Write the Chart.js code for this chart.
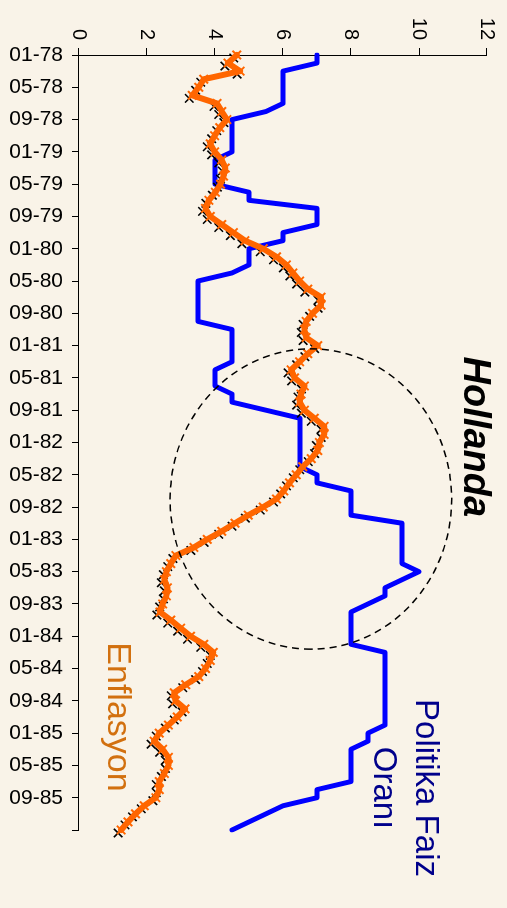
<!DOCTYPE html>
<html><head><meta charset="utf-8">
<script src="https://cdn.jsdelivr.net/npm/chart.js@4"></script>
<style>
html,body{margin:0;padding:0;background:#f9f3e8;width:507px;height:908px;overflow:hidden}
#wrap{position:absolute;left:0;top:0;width:908px;height:507px;transform-origin:0 0;transform:translate(507px,0) rotate(90deg);}
</style></head><body>
<div id="wrap"><canvas id="c" width="908" height="507"></canvas></div>
<script>
const categories = [
 '01-78','02-78','03-78','04-78','05-78','06-78','07-78','08-78','09-78','10-78','11-78','12-78',
 '01-79','02-79','03-79','04-79','05-79','06-79','07-79','08-79','09-79','10-79','11-79','12-79',
 '01-80','02-80','03-80','04-80','05-80','06-80','07-80','08-80','09-80','10-80','11-80','12-80',
 '01-81','02-81','03-81','04-81','05-81','06-81','07-81','08-81','09-81','10-81','11-81','12-81',
 '01-82','02-82','03-82','04-82','05-82','06-82','07-82','08-82','09-82','10-82','11-82','12-82',
 '01-83','02-83','03-83','04-83','05-83','06-83','07-83','08-83','09-83','10-83','11-83','12-83',
 '01-84','02-84','03-84','04-84','05-84','06-84','07-84','08-84','09-84','10-84','11-84','12-84',
 '01-85','02-85','03-85','04-85','05-85','06-85','07-85','08-85','09-85','10-85','11-85','12-85',
 '01-86'
];
const tickLabels = ['01-78','05-78','09-78','01-79','05-79','09-79','01-80','05-80','09-80',
 '01-81','05-81','09-81','01-82','05-82','09-82','01-83','05-83','09-83','01-84','05-84','09-84',
 '01-85','05-85','09-85'];
const tickMarks = tickLabels.concat(['01-86']);
const valueTicks = [0,2,4,6,8,10,12];

const inflation = [
 4.64,4.38,4.74,3.67,3.52,3.33,4.06,4.20,4.35,4.14,3.99,3.86,
 3.99,4.20,4.30,4.25,4.16,4.01,3.82,3.72,3.86,4.20,4.54,4.88,
 5.42,5.81,6.10,6.29,6.49,6.73,7.12,7.12,6.87,6.68,6.63,6.68,
 7.02,6.73,6.49,6.24,6.34,6.63,6.53,6.49,6.63,6.92,7.21,7.21,
 7.07,7.02,6.83,6.58,6.39,6.19,6.02,5.81,5.42,4.98,4.59,4.20,
 3.77,3.38,2.85,2.70,2.57,2.51,2.60,2.57,2.46,2.38,2.70,2.99,
 3.28,3.67,3.95,3.86,3.72,3.52,3.14,2.80,2.84,3.12,2.89,2.63,
 2.36,2.21,2.46,2.63,2.63,2.51,2.36,2.36,2.26,1.92,1.66,1.44,
 1.24
];
const policyRate = [
 7.0,7.0,6.0,6.0,6.0,6.0,6.0,5.5,4.5,4.5,4.5,4.5,
 4.5,4.0,4.0,4.0,4.0,5.0,5.0,7.0,7.0,7.0,6.0,6.0,
 5.0,5.0,5.0,4.5,3.5,3.5,3.5,3.5,3.5,3.5,4.5,4.5,
 4.5,4.5,4.5,4.0,4.0,4.0,4.5,4.5,5.5,6.5,6.5,6.5,
 6.5,6.5,6.5,6.5,7.0,7.0,8.0,8.0,8.0,8.0,9.5,9.5,
 9.5,9.5,9.5,9.5,10.0,9.5,9.0,9.0,8.5,8.0,8.0,8.0,
 8.0,8.0,9.0,9.0,9.0,9.0,9.0,9.0,9.0,9.0,9.0,9.0,
 8.5,8.5,8.0,8.0,8.0,8.0,8.0,7.0,7.0,6.0,5.5,5.0,
 4.5
];

const FONT = '"Liberation Sans", Arial, Helvetica, sans-serif';
const BG = '#f9f3e8';

const annotations = {
  ellipse: {cx: 55.0, cy: 6.82, rxMonths: 18.6, ryValue: 4.14},
  texts: [
    {text: 'Hollanda', x: 47.3, y: 11.62, font: 'italic bold 38px ' + FONT, color: '#000000'},
    {text: 'Enflasyon', x: 82.0, y: 1.14, font: '34px ' + FONT, color: '#d2700f'},
    {text: 'Politika Faiz', x: 90.8, y: 10.17, font: '33px ' + FONT, color: '#00008b'},
    {text: 'Oranı', x: 90.8, y: 8.94, font: '33px ' + FONT, color: '#00008b'}
  ]
};

const decor = {
  id: 'decor',
  beforeDraw(chart) {
    const c = chart.ctx;
    c.save(); c.fillStyle = BG; c.fillRect(0, 0, chart.width, chart.height); c.restore();
  },
  beforeDatasetDraw(chart, args) {
    if (chart.data.datasets[args.index].shadow) { chart.ctx.save(); chart.ctx.translate(3, 3); }
  },
  afterDatasetDraw(chart, args) {
    if (chart.data.datasets[args.index].shadow) { chart.ctx.restore(); }
  },
  afterDatasetsDraw(chart) {
    const c = chart.ctx, xs = chart.scales.x, ys = chart.scales.y, e = annotations.ellipse;
    const cx = xs.getPixelForValue(e.cx), cy = ys.getPixelForValue(e.cy);
    const rx = Math.abs(xs.getPixelForValue(e.cx + e.rxMonths) - cx);
    const ry = Math.abs(ys.getPixelForValue(e.cy + e.ryValue) - cy);
    c.save();
    c.strokeStyle = '#000'; c.lineWidth = 1.5; c.setLineDash([7, 5]);
    c.beginPath(); c.ellipse(cx, cy, rx, ry, 0, 0, Math.PI * 2); c.stroke();
    c.restore();
  },
  afterDraw(chart) {
    const c = chart.ctx, xs = chart.scales.x, ys = chart.scales.y;
    c.save();
    c.textAlign = 'center'; c.textBaseline = 'middle';
    annotations.texts.forEach(t => {
      c.font = t.font; c.fillStyle = t.color;
      c.fillText(t.text, xs.getPixelForValue(t.x), ys.getPixelForValue(t.y));
    });
    c.restore();
  }
};

new Chart(document.getElementById('c'), {
  type: 'line',
  data: {
    labels: categories,
    datasets: [
      {label: 'Politika Faiz Oranı', data: policyRate, borderColor: '#0000ff', borderWidth: 5,
       pointRadius: 0, borderJoinStyle: 'round', borderCapStyle: 'round', fill: false, tension: 0, order: 3},
      {label: 'Enflasyon (gölge)', data: inflation, shadow: true, showLine: false,
       pointStyle: 'crossRot', pointRadius: 6, pointBorderWidth: 1.6, pointBorderColor: '#000',
       pointBackgroundColor: '#000', order: 2},
      {label: 'Enflasyon', data: inflation, borderColor: '#ff6600', borderWidth: 6,
       borderJoinStyle: 'round', borderCapStyle: 'round', tension: 0, fill: false,
       pointStyle: 'crossRot', pointRadius: 6, pointBorderWidth: 2, pointBorderColor: '#ff6600',
       pointBackgroundColor: '#ff6600', order: 1}
    ]
  },
  options: {
    responsive: false, animation: false, devicePixelRatio: 1,
    layout: {padding: {left: 0, right: 78, top: 13, bottom: 0}},
    plugins: {legend: {display: false}, tooltip: {enabled: false}, title: {display: false}},
    scales: {
      x: {
        type: 'category', offset: false,
        afterFit: s => { s.height = 79; },
        border: {display: true, color: '#000', width: 1},
        grid: {drawOnChartArea: false, drawTicks: true, tickLength: 7, lineWidth: 1,
               color: ctx => tickMarks.includes(categories[ctx.index]) ? '#000' : 'rgba(0,0,0,0)'},
        ticks: {autoSkip: false, minRotation: 90, maxRotation: 90, padding: 9, color: '#000',
                font: {family: FONT, size: 21},
                callback: (v, i) => tickLabels.includes(categories[i]) ? categories[i] : ''}
      },
      y: {
        min: 0, max: 12,
        afterFit: s => { s.width = 55; },
        afterBuildTicks: s => { s.ticks = valueTicks.map(v => ({value: v})); },
        border: {display: true, color: '#000', width: 1},
        grid: {drawOnChartArea: false, drawTicks: true, tickLength: 7, color: '#000'},
        ticks: {padding: 8, color: '#000', font: {family: FONT, size: 20}}
      }
    }
  },
  plugins: [decor]
});
</script>
</body></html>
